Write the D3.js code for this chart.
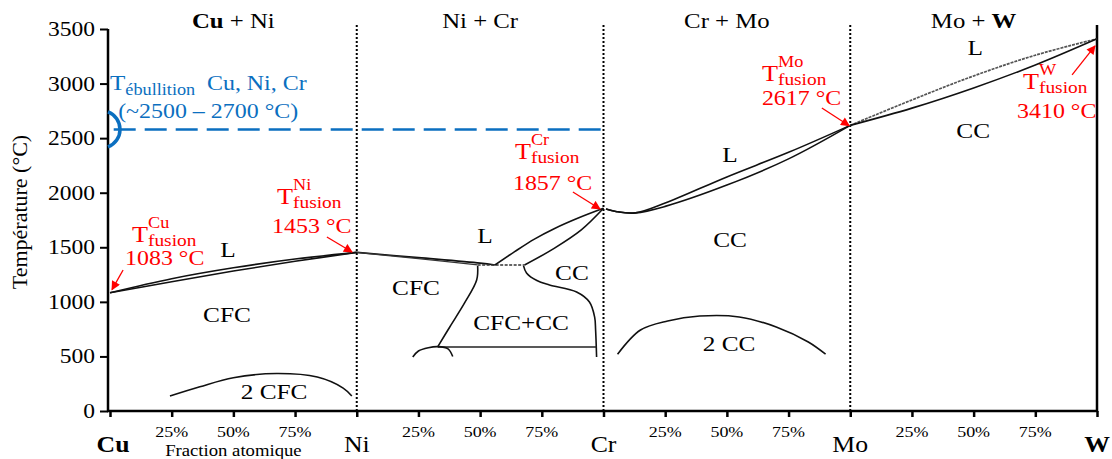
<!DOCTYPE html>
<html><head><meta charset="utf-8">
<script src="https://cdn.jsdelivr.net/npm/d3@7"></script>
<style>
html,body{margin:0;padding:0;background:#fff;}
</style></head>
<body>
<svg id="chart" width="1112" height="459" font-family="'Liberation Serif', 'Times New Roman', Times, 'DejaVu Serif', serif"></svg>
<script>
// ---------- DATA ----------
const elements = ["Cu", "Ni", "Cr", "Mo", "W"];
const boldElements = ["Cu", "W"];
const systemPairs = [["Cu","Ni"],["Ni","Cr"],["Cr","Mo"],["Mo","W"]];
const yTicks = [0, 500, 1000, 1500, 2000, 2500, 3000, 3500];
const fracTicks = [0.25, 0.5, 0.75];
const fracLabels = ["25%", "50%", "75%"];
const meltingPoints = [1083, 1453, 1857, 2617, 3410];
const boilingLine = 2580;
const boilingBracket = [2740, 2420];

// Cu + Ni  (x: 0..1)
const cuNiLiquidus = [[0,1083],[0.25,1212],[0.5,1312],[0.75,1392],[1,1453]];
const cuNiSolidus  = [[0,1083],[0.25,1185],[0.5,1282],[0.75,1372],[1,1453]];
const cuNiGap      = [[0.243,137],[0.364,222],[0.5,305],[0.675,343],[0.84,311],[0.945,210],[0.98,137]];
// Ni + Cr  (x: 1..2)
const niCrLiquidusNi = [[1,1453],[1.25,1405],[1.5,1355],[1.56,1338]];
const niCrSolidusNi  = [[1,1453],[1.25,1396],[1.49,1338]];
const niCrEutectic   = [[1.49,1338],[1.68,1338]];
const niCrLiquidusCr = [[1.56,1338],[1.64,1460],[1.72,1575],[1.8,1670],[1.9,1770],[2,1857]];
const niCrSolidusCr  = [[1.68,1338],[1.8,1490],[1.91,1659],[2,1857]];
const niCrSolvusFCC  = [[1.49,1330],[1.486,1200],[1.437,990],[1.377,770],[1.328,587]];
const niCrSolvusBCC  = [[1.676,1330],[1.688,1265],[1.73,1195],[1.781,1155],[1.891,1091],[1.943,999],[1.964,862],[1.968,742],[1.972,495]];
const niCrEutectoid  = [[1.328,587],[1.972,587]];
const niCrDome       = [[1.227,495],[1.25,550],[1.29,580],[1.33,590],[1.37,570],[1.389,500]];
// Cr + Mo  (x: 2..3)
const crMoLiquidus = [[2.01,1850],[2.05,1828],[2.13,1815],[2.25,1905],[2.5,2145],[2.75,2370],[3,2617]];
const crMoSolidus  = [[2.01,1850],[2.05,1828],[2.13,1815],[2.25,1875],[2.5,2070],[2.75,2310],[3,2617]];
const crMoGap      = [[2.057,520],[2.15,742],[2.26,825],[2.39,870],[2.55,862],[2.70,770],[2.83,632],[2.90,520]];
// Mo + W  (x: 3..4)
const moWLiquidus = [[3,2617],[3.25,2850],[3.5,3070],[3.75,3260],[4,3410]];
const moWSolidus  = [[3,2617],[3.25,2775],[3.5,2960],[3.75,3170],[4,3410]];

// phase labels: [text, x, T]
const phaseLabels = [
  ["L",0.478,1411],["CFC",0.474,815],["2 CFC",0.665,110],
  ["L",1.52,1535],["CFC",1.24,1063],["CFC+CC",1.666,742],["CC",1.872,1200],
  ["L",2.513,2281],["CC",2.513,1503],["2 CC",2.509,550],
  ["L",3.506,3262],["CC",3.498,2501]
];
// melting annotations
const meltLabelX   = [0.089, 0.677, 1.641, 2.642, 3.700];
const meltLabelT   = [1545, 1893, 2306, 3020, 2947];
const meltValueX   = [0.061, 0.657, 1.633, 2.642, 3.676];
const meltValueT   = [1334, 1627, 2021, 2800, 2681];
const arrowFrom    = [[0.053,1292],[0.879,1594],[1.876,2007],[2.885,2776],[3.899,3079]];
const arrowTo      = [[0.008,1112],[0.981,1457],[1.986,1851],[2.996,2614],[3.992,3345]];

// ---------- LAYOUT ----------
const svg = d3.select("#chart");
const x = d3.scaleLinear().domain([0, 4]).range([110, 1097]);
const y = d3.scaleLinear().domain([0, 3500]).range([411, 29]);
const SX = 1.14;
const FONT = "'Liberation Serif', 'Times New Roman', Times, 'DejaVu Serif', serif";
const BLUE = "#0B6FC0", RED = "#FF0000";

function txt(g, px, py, str, size, opts = {}) {
  const t = g.append("text")
    .attr("transform", `translate(${px},${py}) scale(${opts.sx || SX},1)`)
    .attr("font-family", FONT)
    .attr("font-size", size)
    .attr("fill", opts.fill || "#000")
    .attr("text-anchor", opts.anchor || "start")
    .attr("font-weight", opts.bold ? "bold" : "normal");
  if (str !== null) t.text(str);
  return t;
}

const defs = svg.append("defs");
defs.append("marker").attr("id","arr").attr("viewBox","0 0 10 10")
  .attr("refX",9).attr("refY",5).attr("markerWidth",11).attr("markerHeight",9)
  .attr("markerUnits","userSpaceOnUse").attr("orient","auto")
  .append("path").attr("d","M0,0 L10,5 L0,10 z").attr("fill",RED);

// ---------- AXES ----------
const gY = svg.append("g").attr("transform", `translate(${x(0)-2},0)`);
gY.call(d3.axisLeft(y).tickValues(yTicks).tickSize(8).tickFormat(""));
gY.select(".domain").attr("stroke","#000").attr("stroke-width",2.5).attr("d", `M0,${y(3500)}V${y(0)+1}`);
gY.selectAll(".tick line").attr("stroke","#000").attr("stroke-width",2);
yTicks.forEach(v => txt(svg, x(0)-15, y(v)+7, String(v), 21, {anchor:"end", sx:1.12}));

const xTickVals = [];
for (let s = 0; s < 4; s++) { xTickVals.push(s); fracTicks.forEach(f => xTickVals.push(s + f)); }
xTickVals.push(4);
const gX = svg.append("g").attr("transform", `translate(0,${y(0)})`);
gX.call(d3.axisBottom(x).tickValues(xTickVals).tickSize(6).tickFormat(""));
gX.select(".domain").attr("stroke","#000").attr("stroke-width",2.5).attr("d", `M${x(0)-3},0H${x(4)+1}`);
gX.selectAll(".tick line").attr("stroke","#000").attr("stroke-width",2.5);
for (let s = 0; s < 4; s++) fracTicks.forEach((f, i) => txt(svg, x(s+f), 437, fracLabels[i], 15, {anchor:"middle", sx:1.2}));
elements.forEach((e, i) => txt(svg, x(i) + (i===0 ? 3 : 0), 452, e, 23, {anchor:"middle", bold: boldElements.includes(e), sx:1.12}));
txt(svg, (x(0)+x(1))/2, 456, "Fraction atomique", 17, {anchor:"middle", sx:1.1});

svg.append("line").attr("x1",x(4)).attr("x2",x(4)).attr("y1",25).attr("y2",y(0)+1)
  .attr("stroke","#000").attr("stroke-width",2.5);
[1,2,3].forEach(v => svg.append("line").attr("x1",x(v)).attr("x2",x(v)).attr("y1",25).attr("y2",y(0))
  .attr("stroke","#000").attr("stroke-width",2).attr("stroke-dasharray","2,2"));

svg.append("text").attr("transform","translate(27,212) rotate(-90) scale(1.1,1)")
  .attr("font-family", FONT).attr("text-anchor","middle").attr("font-size",20).text("Température (°C)");

systemPairs.forEach((p, i) => {
  const t = txt(svg, (x(i)+x(i+1))/2, 28, null, 21, {anchor:"middle", sx:1.18});
  t.append("tspan").attr("font-weight", boldElements.includes(p[0]) ? "bold" : "normal").text(p[0]);
  t.append("tspan").text(" + ");
  t.append("tspan").attr("font-weight", boldElements.includes(p[1]) ? "bold" : "normal").text(p[1]);
});

// ---------- BOILING ----------
svg.append("line").attr("x1",x(0.015)).attr("x2",x(2)).attr("y1",y(boilingLine)).attr("y2",y(boilingLine))
  .attr("stroke",BLUE).attr("stroke-width",2.5).attr("stroke-dasharray","22,9");
const chord = y(boilingBracket[1]) - y(boilingBracket[0]);
const sag = 12, rad = (chord*chord/4 + sag*sag)/(2*sag);
svg.append("path").attr("d", `M${x(0)-2},${y(boilingBracket[0])} A${rad},${rad} 0 0 1 ${x(0)-2},${y(boilingBracket[1])}`)
  .attr("fill","none").attr("stroke",BLUE).attr("stroke-width",3.5);
{
  const tT = txt(svg, x(0), y(2941), "T", 22, {fill:BLUE});
  const w = tT.node().getComputedTextLength()*SX;
  txt(svg, x(0)+w, y(2941)+5, "ébullition", 16, {fill:BLUE});
  txt(svg, x(0.393), y(2941), "Cu, Ni, Cr", 21, {fill:BLUE});
  txt(svg, x(0.033), y(2685), "(~2500 – 2700 °C)", 21, {fill:BLUE});
}

// ---------- CURVES ----------
const line = d3.line().x(d => x(d[0])).y(d => y(d[1])).curve(d3.curveCatmullRom.alpha(0.5));
const lineLin = d3.line().x(d => x(d[0])).y(d => y(d[1]));
const curves = [
  [cuNiLiquidus,"#111",1.6,null,line],[cuNiSolidus,"#111",1.6,null,line],[cuNiGap,"#111",1.6,null,line],
  [niCrLiquidusNi,"#111",1.6,null,line],[niCrSolidusNi,"#333",1.3,null,line],
  [niCrEutectic,"#333",1.5,"3,1.5",lineLin],
  [niCrLiquidusCr,"#111",1.6,null,line],[niCrSolidusCr,"#111",1.6,null,line],
  [niCrSolvusFCC,"#111",1.6,null,line],[niCrSolvusBCC,"#111",1.6,null,line],
  [niCrEutectoid,"#222",1.6,null,lineLin],[niCrDome,"#111",1.6,null,line],
  [crMoLiquidus,"#111",1.6,null,line],[crMoSolidus,"#111",1.6,null,line],[crMoGap,"#111",1.6,null,line],
  [moWLiquidus,"#555",1.7,"3,1",line],[moWSolidus,"#111",1.6,null,line]
];
curves.forEach(([d, c, w, dash, gen]) => {
  const p = svg.append("path").attr("d", gen(d)).attr("fill","none").attr("stroke",c).attr("stroke-width",w);
  if (dash) p.attr("stroke-dasharray", dash);
});

phaseLabels.forEach(([t, xv, tv]) => txt(svg, x(xv), y(tv), t, 22, {anchor:"middle", sx:1.15}));

// ---------- MELTING ANNOTATIONS ----------
elements.forEach((e, i) => {
  const px = x(meltLabelX[i]), py = y(meltLabelT[i]);
  const tT = txt(svg, px, py, "T", 23, {fill:RED});
  const w = tT.node().getComputedTextLength()*SX;
  txt(svg, px+w, py-14, e, 16, {fill:RED});
  txt(svg, px+w, py+4, "fusion", 17, {fill:RED});
  txt(svg, x(meltValueX[i]), y(meltValueT[i]), meltingPoints[i] + " °C", 21, {fill:RED});
  svg.append("line").attr("x1",x(arrowFrom[i][0])).attr("y1",y(arrowFrom[i][1]))
    .attr("x2",x(arrowTo[i][0])).attr("y2",y(arrowTo[i][1]))
    .attr("stroke",RED).attr("stroke-width",1.3).attr("marker-end","url(#arr)");
});
</script>
</body></html>
